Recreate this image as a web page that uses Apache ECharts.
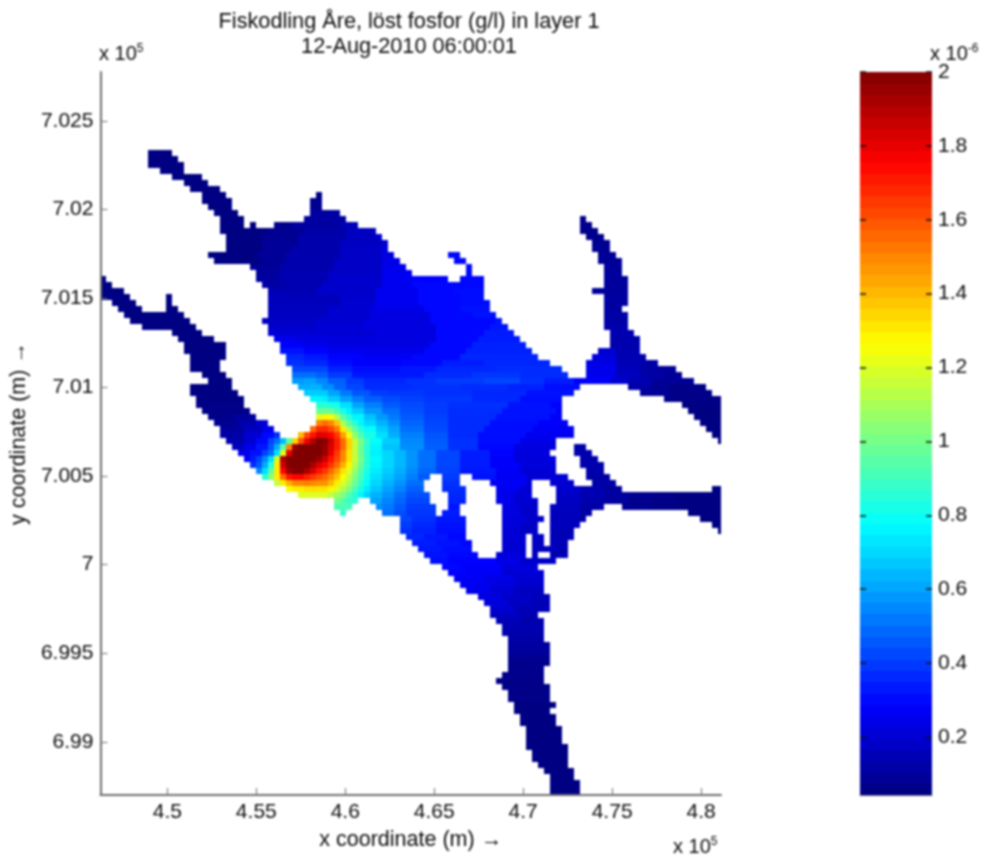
<!DOCTYPE html>
<html><head><meta charset="utf-8">
<style>html,body{margin:0;padding:0;background:#fff}#c{width:982px;height:856px}canvas{filter:blur(.8px)}</style>
<script src="https://cdn.jsdelivr.net/npm/echarts@6/dist/echarts.min.js"></script>
</head><body><div id="c"></div>
<script>
const titleLines = ['Fiskodling Åre, löst fosfor (g/l) in layer 1', '12-Aug-2010 06:00:01'];
const xName = 'x coordinate (m) →';
const yName = 'y coordinate (m) →';
const xTicks = [4.5, 4.55, 4.6, 4.65, 4.7, 4.75, 4.8];
const yTicks = [6.99, 6.995, 7, 7.005, 7.01, 7.015, 7.02, 7.025];
const barTicks = [0.2, 0.4, 0.6, 0.8, 1, 1.2, 1.4, 1.6, 1.8, 2];
const xRange = [4.4624, 4.8112];
const yRange = [6.98701, 7.02776];
const barRange = [0.043, 2];
const cellX = 0.0033708, cellY = 0.00033822;
const barStep = 0.0325;
const barLevels = [.058,.089,.119,.150,.180,.211,.242,.272,.303,.333,.364,.395,.425,.456,.486,.517,.548,.578,.609,.639,.670,.701,.731,.762,.792,.823,.854,.884,.915,.945,.976,1.007,1.037,1.068,1.098,1.129,1.160,1.190,1.221,1.251,1.282,1.313,1.343,1.374,1.404,1.435,1.466,1.496,1.527,1.557,1.588,1.619,1.649,1.680,1.710,1.741,1.772,1.802,1.833,1.863,1.894,1.925,1.955,1.985];
const jet = ['#00007f','#0000ff','#0080ff','#00ffff','#80ff80','#ffff00','#ff8000','#ff0000','#800000'];
// concentration, row by row: "startCol value endCol value endCol ...", x = land
const firstRow = 13;
const fieldRows = [
"8 .05 12","8 .05 13","8 .05 14","10 .05 14","12 .05 17","14 .05 18","15 .05 20",
"17 .05 21 x 36 .06 37",
"17 .05 22 x 35 .08 37",
"18 .05 22 x 35 .08 37",
"19 .05 23 x 35 .11 40",
"20 .05 24 x 34 .11 41 x 80 .07 81",
"20 .05 24 x 25 .05 26 x 29 .07 32 .11 40 .15 43 x 80 .07 82",
"20 .05 28 .08 34 .12 41 .17 46 x 80 .07 83",
"21 .05 27 .08 33 .13 41 .17 46 .2 47 x 81 .07 84",
"21 .05 27 .09 33 .13 40 .17 47 .2 48 x 82 .08 85",
"21 .05 27 .09 32 .13 40 .18 47 .22 48 x 82 .08 85",
"18 .05 26 .09 31 .13 40 .18 47 .23 49 x 58 .3 60 x 83 .09 86",
"19 .05 27 .09 31 .13 39 .18 47 .24 50 x 59 .3 61 x 83 .09 87",
"25 .09 30 .13 39 .18 47 .25 51 x 61 .3 62 x 84 .09 87",
"26 .1 30 .14 38 .18 47 .26 52 x 61 .3 62 x 84 .1 87",
"0 .05 1 x 26 .11 30 .14 38 .19 47 .26 52 .29 58 x 60 .3 64 x 84 .1 88",
"0 .05 2 x 27 .12 31 .14 37 .19 47 .26 52 .3 64 x 84 .1 88",
"0 .05 4 x 28 .14 36 .19 46 .26 53 .3 59 .31 64 x 82 .1 88",
"0 .05 5 x 11 .05 12 x 28 .16 40 .19 46 .26 53 .3 60 .31 64 x 84 .11 88",
"2 .05 6 x 11 .05 12 x 28 .16 40 .2 46 .26 53 .3 60 .31 65 x 84 .11 88",
"3 .05 7 x 11 .05 13 x 28 .17 38 .2 45 .24 54 .3 60 .32 65 x 84 .11 87",
"4 .05 14 x 28 .17 38 .2 45 .23 55 .3 62 .32 66 x 84 .12 88",
"5 .05 15 x 27 .18 36 .2 44 .23 55 .3 66 .33 67 x 84 .12 88",
"7 .05 16 x 28 .19 36 .21 44 .23 56 .3 65 .33 68 x 84 .13 88",
"12 .05 17 x 28 .21 46 .23 56 .3 64 .34 69 x 85 .14 89",
"13 .05 19 x 29 .25 33 .23 38 .22 46 .23 56 .3 63 .34 70 x 85 .13 90",
"14 .05 21 x 30 .28 34 .25 38 .23 55 .3 62 .35 71 x 85 .13 90",
"14 .05 21 x 30 .32 34 .29 38 .26 44 .25 54 .3 61 .35 72 x 83 .2 86 .14 90",
"15 .05 21 x 31 .36 34 .33 38 .29 44 .27 52 .3 60 .36 73 x 82 .22 86 .14 91",
"15 .05 20 x 31 .38 34 .36 38 .31 42 .28 50 .3 57 .34 64 .36 75 x 81 .24 86 .15 90 .12 93",
"15 .05 20 x 32 .42 38 .35 42 .31 50 .33 56 .36 66 .37 77 x 81 .25 86 .16 90 .12 93 .1 96",
"17 .05 21 x 32 .5 36 .47 38 .4 42 .33 54 .37 62 .39 70 .37 78 x 81 .25 86 .17 90 .12 94 .09 97",
"18 .05 22 x 32 .58 34 .6 36 .55 38 .47 41 .4 44 .36 51 .38 56 .4 64 .42 70 .38 74 .34 79 .28 85 .2 88 .14 92 .09 99",
"15 .05 22 x 33 .62 35 .63 37 .56 39 .48 41 .42 44 .37 52 .38 60 .37 68 .35 74 .31 80 x 88 .12 92 .08 95 .06 101",
"15 .05 23 x 34 .68 36 .68 38 .6 40 .52 42 .45 45 .4 48 .39 54 .38 62 .36 71 .32 79 x 90 .09 95 .06 102",
"16 .05 24 x 35 .76 37 .74 38 .68 40 .6 42 .53 44 .47 47 .43 50 .41 54 .39 62 .36 70 .31 77 x 94 .06 104",
"16 .06 24 x 36 .86 38 .82 40 .72 42 .6 44 .53 47 .46 50 .43 54 .4 58 .38 68 .32 75 .29 77 x 97 .05 104",
"17 .06 25 x 36 .98 38 .98 39 .9 40 .82 41 .75 42 .68 44 .58 47 .5 50 .44 54 .4 58 .37 67 .32 76 .28 77 x 98 .05 104",
"18 .07 22 .1 26 x 36 1.2 37 1.28 38 1.25 39 1.12 40 .95 41 .85 42 .76 44 .66 46 .58 48 .52 50 .46 54 .41 58 .37 66 .32 75 .28 77 x 99 .05 104",
"19 .08 23 .13 26 .2 28 x 36 1.5 37 1.55 38 1.5 39 1.38 40 1.1 41 .95 42 .85 43 .76 44 .7 46 .63 48 .56 50 .48 54 .42 58 .37 65 .31 73 .28 78 x 100 .05 104",
"20 .1 24 .17 27 .25 29 x 35 1.55 36 1.68 38 1.62 39 1.52 40 1.3 41 1.1 42 .95 43 .85 44 .78 46 .68 48 .6 50 .5 54 .43 58 .37 64 .31 72 .27 79 x 101 .05 104",
"20 .12 24 .2 27 .3 29 .38 30 x 33 1.4 34 1.62 35 1.72 36 1.82 37 1.8 38 1.75 39 1.65 40 1.45 41 1.25 42 1.05 43 .92 44 .82 46 .72 48 .62 50 .53 54 .45 58 .37 63 .31 71 .26 79 x 102 .05 104",
"21 .13 24 .2 26 .3 28 .42 29 .5 30 .65 31 .95 32 1.35 33 1.6 34 1.78 35 1.9 36 2 37 1.98 38 1.85 39 1.7 40 1.55 41 1.35 42 1.15 43 1 44 .88 45 .78 47 .68 50 .55 54 .46 58 .38 63 .31 70 .24 76 x 103 .05 104",
"22 .17 24 .25 26 .33 28 .45 29 .62 30 .95 31 1.5 32 1.95 33 2 37 1.95 38 1.82 39 1.7 40 1.55 41 1.35 42 1.15 43 .98 44 .86 45 .76 47 .66 50 .56 54 .47 58 .38 63 .3 69 .23 76 x 79 .13 81",
"23 .25 25 .32 27 .42 28 .5 29 .72 30 1.2 31 1.8 32 2 37 1.95 38 1.8 39 1.65 40 1.5 41 1.32 42 1.15 43 .98 44 .85 45 .75 47 .7 49 .64 51 .57 53 .5 56 .42 60 .34 65 .29 69 .22 75 x 79 .13 82",
"24 .28 25 .34 26 .42 27 .55 28 .72 29 1.2 30 1.9 31 2 36 1.95 37 1.85 38 1.72 39 1.62 40 1.5 41 1.32 42 1.15 43 1 44 .86 45 .77 47 .7 49 .64 51 .57 53 .5 56 .42 60 .34 65 .28 69 .22 76 x 80 .13 83",
"25 .38 26 .46 27 .62 28 .85 29 1.3 30 1.85 31 2 35 1.92 36 1.82 37 1.75 38 1.65 39 1.55 40 1.42 41 1.28 42 1.12 43 .97 44 .85 45 .76 47 .7 49 .64 51 .57 53 .5 56 .42 60 .34 65 .28 70 .22 76 x 80 .13 84",
"26 .55 27 .72 28 .95 29 1.3 30 1.75 31 1.95 32 2 34 1.92 35 1.82 36 1.72 37 1.65 38 1.55 39 1.45 40 1.32 41 1.2 42 1.06 43 .93 44 .82 45 .74 47 .68 49 .62 51 .55 53 .48 56 .41 60 .33 66 .27 70 .21 76 x 81 .13 84",
"27 .85 28 1.05 29 1.3 30 1.55 31 1.72 32 1.75 34 1.7 35 1.65 36 1.6 37 1.55 38 1.48 39 1.38 40 1.26 41 1.14 42 1.02 43 .9 44 .8 45 .72 47 .66 49 .6 51 .53 53 .46 55 x 57 .4 60 x 62 .32 66 .27 71 .21 78 x 81 .12 85",
"29 1.15 30 1.3 31 1.42 32 1.5 34 1.52 35 1.5 36 1.48 38 1.4 39 1.3 40 1.2 41 1.1 42 .98 43 .87 44 .78 45 .7 47 .63 49 .57 51 .5 54 x 57 .38 60 x 65 .27 71 .21 72 x 75 .2 79 x 82 .12 86",
"31 1.25 32 1.3 34 1.33 36 1.32 38 1.28 39 1.2 40 1.12 41 1.02 42 .92 43 .82 44 .74 45 .67 47 .6 49 .54 51 .47 54 x 57 .37 61 x 66 .26 70 .21 72 x 76 .19 80 .14 84 .1 87 x 102 .05 104",
"33 1.2 38 1.14 39 1.08 40 1.02 41 .93 42 .85 43 .76 44 .69 45 .63 47 .57 49 .5 51 .44 55 x 58 .36 61 x 66 .25 69 .21 72 x 76 .18 80 .14 84 .11 88 .08 92 .06 96 .05 104",
"39 1 40 .95 41 .87 43 x 45 .6 47 .54 49 .48 51 .42 55 x 58 .35 61 x 66 .25 69 .2 73 x 76 .17 80 .13 84 .1 88 .07 92 .06 96 .05 104",
"39 .92 42 x 46 .56 47 .52 49 .46 51 .4 56 x 58 .33 60 x 67 .23 70 .19 73 x 75 .17 80 .12 84 x 87 .08 92 .06 96 .05 104",
"40 .88 41 x 47 .5 49 .44 51 .39 56 x 57 .34 60 x 67 .23 70 .19 73 x 75 .16 80 .12 82 x 98 .05 104",
"50 .42 52 .38 56 .33 61 x 67 .22 71 .18 74 x 75 .16 80 .12 81 x 100 .05 104",
"50 .4 52 .36 56 .32 61 x 67 .22 70 .18 73 x 75 .16 80 x 102 .05 104",
"50 .38 52 .35 56 .31 61 x 67 .21 70 .18 73 x 75 .15 79 x 103 .05 104",
"51 .36 54 .33 58 .3 61 x 67 .21 71 x 72 .18 74 x 75 .15 79",
"52 .34 56 .32 60 .3 62 x 67 .2 71 x 72 .17 74 x 75 .15 78",
"53 .33 57 .31 62 x 67 .2 71 x 72 .17 76 .14 78",
"54 .32 58 .3 63 x 66 .22 71 x 72 .17 73 x 75 .14 78",
"55 .31 58 .29 66 .24 70 .19 76",
"57 .3 60 .28 67 .22 73",
"58 .29 61 .27 67 .21 74",
"59 .27 64 .24 69 .2 74",
"60 .26 65 .22 69 .19 74",
"61 .25 65 .21 69 .17 74",
"63 .23 67 .18 72 .16 75",
"64 .22 68 .17 72 .15 75",
"65 .2 69 .15 75",
"65 .17 70 .14 73",
"66 .15 70 .13 74",
"67 .14 74","67 .13 74","68 .12 74","68 .11 75","68 .1 75","68 .08 75","68 .07 75","68 .07 74","67 .07 74","66 .06 74","67 .06 75","68 .06 75","68 .06 75",
"69 .05 76","69 .05 75","70 .05 76","70 .05 76","71 .05 77","71 .05 77","71 .05 77","71 .05 78","72 .05 78","72 .05 78","73 .05 78","74 .05 79","75 .05 79","75 .05 80","75 .05 80","75 .05 80"
];

const fieldData = [];
fieldRows.forEach((line, i) => {
  const t = line.split(' ');
  const yv = yRange[1] - (firstRow + i + 0.5) * cellY;
  for (let k = 1; k + 1 < t.length; k += 2) {
    if (t[k] === 'x') continue;
    for (let c = +t[k - 1]; c < +t[k + 1]; c++) {
      fieldData.push([xRange[0] + (c + 0.5) * cellX, yv, +t[k]]);
    }
  }
});
const barData = barLevels.map(v => [0.5, v, v]);

function rectItem(params, api, x0, x1, y0, y1) {
  const a = api.coord([x0, y1]), b = api.coord([x1, y0]);
  const ax = Math.round(a[0]), ay = Math.round(a[1]);
  const shape = echarts.graphic.clipRectByRect(
    { x: ax, y: ay, width: Math.round(b[0]) - ax, height: Math.round(b[1]) - ay },
    params.coordSys);
  return shape && { type: 'rect', shape: shape, style: { fill: api.visual('color') } };
}
const ink = '#0a0a0a', axisGrey = '#6e6e6e', font = '"Liberation Sans", Arial, sans-serif';
const sup = t => ({
  type: 'text',
  style: {
    text: '{a|x 10}{b|' + t + '}',
    fill: ink,
    rich: {
      a: { fontSize: 20, fontFamily: font, fill: ink },
      b: { fontSize: 12, fontFamily: font, fill: ink, padding: [0, 0, 11, 0] }
    }
  }
});
const chart = echarts.init(document.getElementById('c'));
chart.setOption({
  animation: false,
  textStyle: { fontFamily: font },
  title: {
    text: titleLines.join('\n'), left: 404, top: 5, textAlign: 'center',
    textStyle: { fontSize: 21.7, fontWeight: 'normal', color: ink, lineHeight: 25, fontFamily: font }
  },
  visualMap: {
    show: false, type: 'continuous', min: barRange[0], max: barRange[1],
    dimension: 2, seriesIndex: [0, 1], inRange: { color: jet }
  },
  grid: [
    { left: 100, top: 72, width: 621, height: 723 },
    { left: 860, top: 72, width: 72, height: 723 }
  ],
  xAxis: [
    {
      type: 'value', gridIndex: 0, min: xRange[0], max: xRange[1], z: 10,
      name: xName, nameLocation: 'middle', nameGap: 34,
      nameTextStyle: { fontSize: 21.5, color: ink, fontFamily: font },
      axisLine: { show: true, lineStyle: { color: axisGrey, width: 2 } },
      axisTick: { show: true, inside: true, length: 7, customValues: xTicks, lineStyle: { color: axisGrey } },
      axisLabel: { customValues: xTicks, formatter: v => String(v), fontSize: 21, color: ink, margin: 7, fontFamily: font },
      splitLine: { show: false }
    },
    {
      type: 'value', gridIndex: 1, min: 0, max: 1,
      axisLine: { show: true, lineStyle: { color: axisGrey } }, axisTick: { show: false }, axisLabel: { show: false }, splitLine: { show: false }
    }
  ],
  yAxis: [
    {
      type: 'value', gridIndex: 0, min: yRange[0], max: yRange[1], z: 10,
      name: yName, nameLocation: 'middle', nameGap: 69,
      nameTextStyle: { fontSize: 21.5, color: ink, fontFamily: font },
      axisLine: { show: true, onZero: false, lineStyle: { color: axisGrey, width: 2 } },
      axisTick: { show: true, inside: true, length: 7, customValues: yTicks, lineStyle: { color: axisGrey } },
      axisLabel: { customValues: yTicks, formatter: v => String(v), fontSize: 21, color: ink, margin: 7, fontFamily: font },
      splitLine: { show: false }
    },
    {
      type: 'value', gridIndex: 1, position: 'right', min: barRange[0], max: barRange[1], z: 10,
      axisLine: { show: false, onZero: false },
      axisTick: { show: true, inside: true, length: 6, customValues: barTicks, lineStyle: { color: '#111', width: 1.5 } },
      axisLabel: { customValues: barTicks, formatter: v => String(v), fontSize: 21, color: ink, margin: 6, fontFamily: font },
      splitLine: { show: false }
    },
    {
      type: 'value', gridIndex: 1, position: 'left', min: barRange[0], max: barRange[1], z: 10,
      axisLine: { show: false, onZero: false },
      axisTick: { show: true, inside: true, length: 6, customValues: barTicks, lineStyle: { color: '#111', width: 1.5 } },
      axisLabel: { show: false }, splitLine: { show: false }
    }
  ],
  series: [
    {
      type: 'custom', xAxisIndex: 0, yAxisIndex: 0, silent: true, data: fieldData, encode: { x: 0, y: 1 },
      renderItem: (p, api) => rectItem(p, api,
        api.value(0) - cellX / 2, api.value(0) + cellX / 2,
        api.value(1) - cellY / 2, api.value(1) + cellY / 2)
    },
    {
      type: 'custom', xAxisIndex: 1, yAxisIndex: 1, silent: true, data: barData, encode: { x: 0, y: 1 },
      renderItem: (p, api) => rectItem(p, api, 0, 1, api.value(1) - barStep / 2, api.value(1) + barStep / 2)
    }
  ],
  graphic: [
    Object.assign(sup('5'), { left: 99, top: 43 }),
    Object.assign(sup('5'), { left: 673, top: 836 }),
    Object.assign(sup('-6'), { left: 930, top: 43 })
  ]
});
</script></body></html>
